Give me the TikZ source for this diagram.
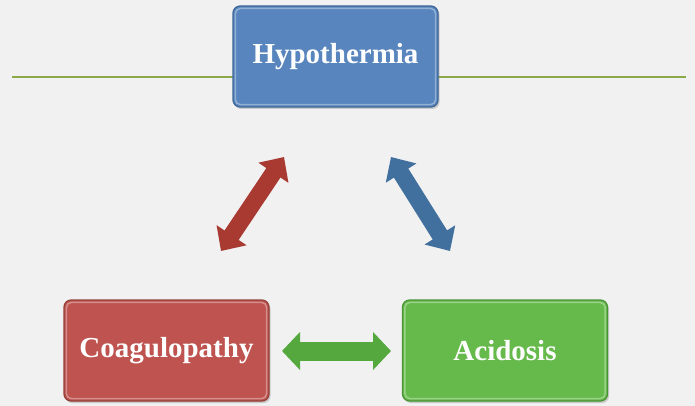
\documentclass[tikz,border=0pt]{standalone}
\usepackage{fontspec}
\setmainfont{Liberation Serif}
\usetikzlibrary{arrows.meta,shadows}
\definecolor{bg}{HTML}{F1F1F1}
\definecolor{hypblue}{HTML}{5885BD}
\definecolor{hypedge}{HTML}{3E6697}
\definecolor{coagred}{HTML}{BE534F}
\definecolor{coagedge}{HTML}{944038}
\definecolor{acidgreen}{HTML}{66BA4C}
\definecolor{acidedge}{HTML}{4A9436}
\definecolor{linegreen}{HTML}{8CAA4A}
\definecolor{arrred}{HTML}{A83A32}
\definecolor{arrblue}{HTML}{41709F}
\definecolor{arrgreen}{HTML}{55A83E}
\tikzset{
  box/.style={rectangle, rounded corners=7pt, minimum width=205pt, minimum height=101pt,
    line width=1.2pt, text=white, font=\fontsize{29}{32}\selectfont\bfseries,
    drop shadow={shadow xshift=1.5pt, shadow yshift=-2pt, opacity=0.35}},
  dblarrow/.style={line width=17pt, {Triangle[width=35pt,length=19pt]}-{Triangle[width=35pt,length=19pt]}},
  divider/.style={draw=linegreen, line width=1.8pt}
}
\begin{document}
\begin{tikzpicture}[x=1pt,y=-1pt]
\fill[bg] (0,0) rectangle (695,406);
\useasboundingbox (0,0) rectangle (695,406);
\coordinate (l1) at (12,77);
\coordinate (l2) at (686,77);
\draw[divider] (l1) -- (l2);
\node[box, fill=hypblue, draw=hypedge] (hyp) at (335.5,56.5) {Hypothermia};
\node[box, fill=coagred, draw=coagedge] (coag) at (166.5,350.5) {Coagulopathy};
\node[box, fill=acidgreen, draw=acidedge] (acid) at (505,350.5) {Acidosis};
\foreach \n/\c in {hyp/hypblue, coag/coagred, acid/acidgreen}{
  \draw[white, opacity=0.35, line width=1.5pt, rounded corners=5pt]
    ([xshift=3pt,yshift=-3pt]\n.north west) rectangle ([xshift=-3pt,yshift=3pt]\n.south east);
}
\coordinate (r1) at (221,251);
\coordinate (r2) at (284,157);
\coordinate (b1) at (391,157);
\coordinate (b2) at (450,251);
\coordinate (g1) at (282,351);
\coordinate (g2) at (391,351);
\draw[dblarrow, draw=arrred, fill=arrred] (r1) -- (r2);
\draw[dblarrow, draw=arrblue, fill=arrblue] (b1) -- (b2);
\draw[dblarrow, draw=arrgreen, fill=arrgreen, line width=19pt, {Triangle[width=37pt,length=18pt]}-{Triangle[width=37pt,length=18pt]}] (g1) -- (g2);
\end{tikzpicture}
\end{document}
